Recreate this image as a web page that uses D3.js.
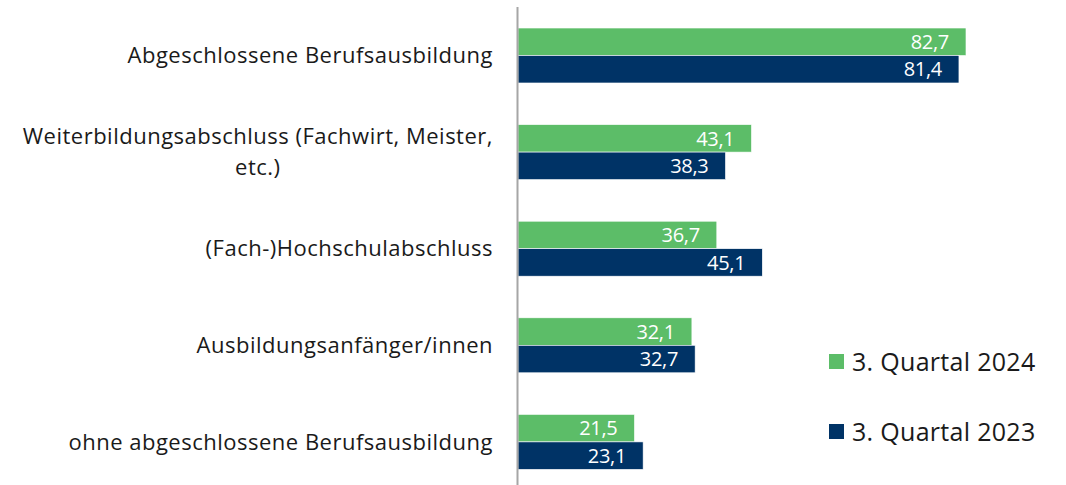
<!DOCTYPE html>
<html>
<head>
<meta charset="utf-8">
<script src="https://cdn.jsdelivr.net/npm/d3@7"></script>
<style>
  body { margin: 0; background: #fff; }
  svg { display: block; font-family: "Open Sans", Lato, sans-serif; }
</style>
</head>
<body>
<div id="chart"></div>
<script>
// categories (top to bottom), label lines as shown in the chart
var categories = [
  "Abgeschlossene Berufsausbildung",
  "Weiterbildungsabschluss (Fachwirt, Meister, etc.)",
  "(Fach-)Hochschulabschluss",
  "Ausbildungsanfänger/innen",
  "ohne abgeschlossene Berufsausbildung"
];
var labelLines = [
  ["Abgeschlossene Berufsausbildung"],
  ["Weiterbildungsabschluss (Fachwirt, Meister,", "etc.)"],
  ["(Fach-)Hochschulabschluss"],
  ["Ausbildungsanfänger/innen"],
  ["ohne abgeschlossene Berufsausbildung"]
];
var series = ["3. Quartal 2024", "3. Quartal 2023"];
var values2024 = [82.7, 43.1, 36.7, 32.1, 21.5];
var values2023 = [81.4, 38.3, 45.1, 32.7, 23.1];

var colors = ["#5cbd68", "#003366"];

var width = 1066, height = 485;

var svg = d3.select("#chart")
  .append("svg")
  .attr("width", width)
  .attr("height", height);

var x = d3.scaleLinear()
  .domain([0, 100])
  .range([518, 1059.7]);

var y = d3.scaleBand()
  .domain(categories)
  .range([7.2, 490.2])
  .paddingInner(0.431)
  .paddingOuter(0.2155);

var ySub = d3.scaleBand()
  .domain(series)
  .range([0, y.bandwidth()]);

var rows = categories.map(function(c, i) {
  return { cat: c, vals: [values2024[i], values2023[i]] };
});

var groups = svg.selectAll("g.grp")
  .data(rows)
  .enter()
  .append("g")
    .attr("class", "grp")
    .attr("transform", function(d) { return "translate(0," + y(d.cat) + ")"; });

var bars = groups.selectAll("g.bar")
  .data(function(d) { return d.vals.map(function(v, k) { return { s: series[k], v: v, k: k }; }); })
  .enter()
  .append("g")
    .attr("class", "bar");

bars.append("rect")
  .attr("x", x(0))
  .attr("y", function(d) { return ySub(d.s); })
  .attr("width", function(d) { return x(d.v) - x(0); })
  .attr("height", ySub.bandwidth())
  .style("fill", function(d) { return colors[d.k]; })
  .style("stroke", "#ffffff")
  .style("stroke-width", 0.6);

// value labels inside the bar end
bars.append("text")
  .attr("x", function(d) { return x(d.v) - 17; })
  .attr("y", function(d) { return ySub(d.s) + ySub.bandwidth() / 2; })
  .attr("dy", "0.36em")
  .attr("text-anchor", "end")
  .attr("font-size", "20px")
  .attr("font-weight", 500)
  .attr("letter-spacing", "-0.3px")
  .attr("fill", "#ffffff")
  .text(function(d) { return d3.format(".1f")(d.v).replace(".", ","); });

// axis line
svg.append("line")
  .attr("x1", 517.5).attr("x2", 517.5)
  .attr("y1", 7).attr("y2", height)
  .style("stroke", "#a6a6a6")
  .style("stroke-width", 2);

// category labels
var lineH = 31;
svg.selectAll("text.cat")
  .data(rows)
  .enter()
  .append("text")
    .attr("class", "cat")
    .attr("font-size", "22px")
    .attr("letter-spacing", "0.5px")
    .attr("fill", "#1a1a1a")
    .each(function(d, i) {
      var lines = labelLines[i];
      var cy = y(d.cat) + y.bandwidth() / 2;
      var t = d3.select(this);
      if (lines.length === 1) {
        t.attr("text-anchor", "end")
          .attr("x", 493)
          .attr("y", cy)
          .attr("dy", "0.35em")
          .text(lines[0]);
      } else {
        // wrapped label: lines centred on each other, block right-aligned
        var tmp = t.append("tspan").text(lines[0]);
        var w = tmp.node().getComputedTextLength();
        tmp.remove();
        var mid = 493 - w / 2;
        t.attr("text-anchor", "middle");
        lines.forEach(function(l, j) {
          t.append("tspan")
            .attr("x", mid)
            .attr("y", cy + (j - (lines.length - 1) / 2) * lineH)
            .attr("dy", "0.35em")
            .text(l);
        });
      }
    });

// legend
var legend = svg.selectAll("g.leg")
  .data(series)
  .enter()
  .append("g")
    .attr("class", "leg")
    .attr("transform", function(d, i) { return "translate(829," + (354 + i * 70) + ")"; });

legend.append("rect")
  .attr("width", 15)
  .attr("height", 15)
  .style("fill", function(d, i) { return colors[i]; });

legend.append("text")
  .attr("x", 23)
  .attr("y", 7.5)
  .attr("dy", "0.36em")
  .attr("font-size", "25px")
  .attr("letter-spacing", "0.3px")
  .attr("fill", "#1a1a1a")
  .text(function(d) { return d; });
</script>
</body>
</html>
